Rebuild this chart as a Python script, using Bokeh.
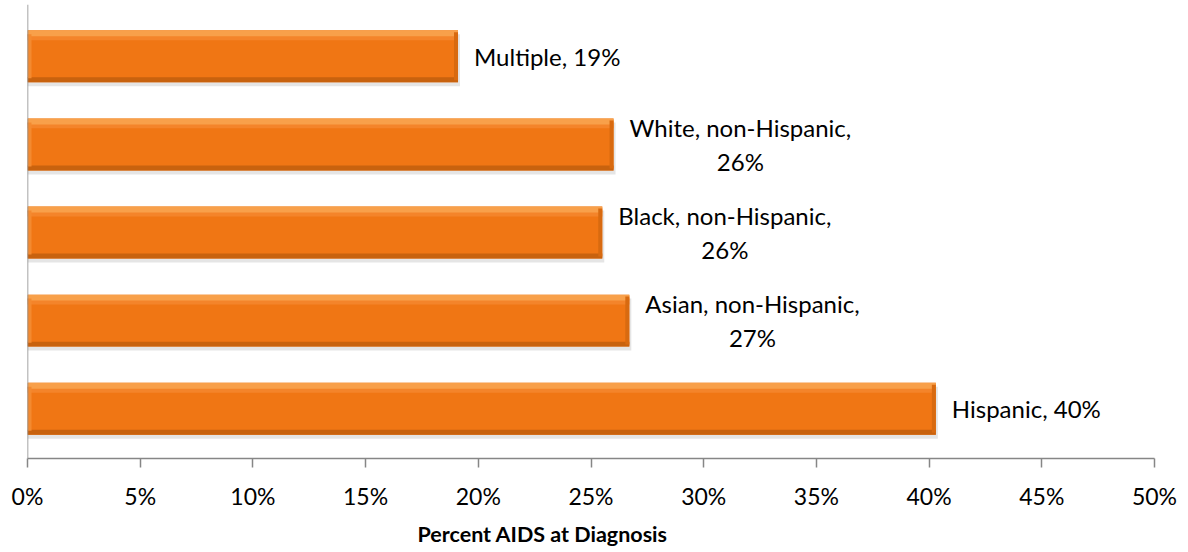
from bokeh.plotting import figure
from bokeh.models import ColumnDataSource, FixedTicker, Title, Span
from bokeh.core.properties import value
from bokeh.embed import file_html
from bokeh.resources import INLINE

# ---- data ----
groups = ["Hispanic", "Asian, non-Hispanic", "Black, non-Hispanic", "White, non-Hispanic", "Multiple"]
percents = [40.3, 26.7, 25.5, 26.0, 19.1]
labels = ["Hispanic, 40%", "Asian, non-Hispanic,\n27%", "Black, non-Hispanic,\n26%",
          "White, non-Hispanic,\n26%", "Multiple, 19%"]
tick_values = [0, 5, 10, 15, 20, 25, 30, 35, 40, 45, 50]
tick_labels = {t: f"{t}%" for t in tick_values}
x_title = "Percent AIDS at Diagnosis"

FONT = "Lato"
W, H = 1188, 552
px_y = 1.0 / 88.5          # data units per pixel, vertical
px_x = 50.0 / 1127.0       # data units per pixel, horizontal
bar_h = 0.59

ypos = list(range(len(groups)))
src = ColumnDataSource(dict(
    y=ypos,
    v=percents,
    label=labels,
    y_shadow=[y - 4 * px_y for y in ypos],
    y_top=[y + bar_h / 2 - 3 * px_y for y in ypos],
    y_top2=[y + bar_h / 2 - 7 * px_y for y in ypos],
    y_bot=[y - bar_h / 2 + 2.5 * px_y for y in ypos],
    right_in=[v - 4 * px_x for v in percents],
    left_in=[4 * px_x for _ in percents],
    x_shadow=[v + 2 * px_x for v in percents],
))

p = figure(width=W, height=H, output_backend="svg", toolbar_location=None,
           x_range=(0, 50), y_range=(-0.565, 4.588),
           min_border_left=27, min_border_right=34, min_border_top=4, min_border_bottom=92)
p.outline_line_color = None
p.xgrid.visible = False
p.ygrid.visible = False
p.yaxis.visible = False
p.background_fill_color = "white"
p.border_fill_color = "white"

# shadow
p.hbar(y="y_shadow", left=0, right="x_shadow", height=bar_h, source=src,
       fill_color="#000000", fill_alpha=0.10, line_color=None)
# main body
p.hbar(y="y", left=0, right="v", height=bar_h, source=src,
       fill_color="#F07614", line_color=None)
# top highlight
p.hbar(y="y_top2", left=0, right="v", height=6 * px_y, source=src,
       fill_color="#F4842A", line_color=None)
p.hbar(y="y_top", left=0, right="v", height=6 * px_y, source=src,
       fill_color="#F8A04A", line_color=None)
# bottom dark edge
p.hbar(y="y_bot", left=0, right="v", height=5 * px_y, source=src,
       fill_color="#C8620E", line_color=None)
# right bevel
p.hbar(y="y", left="right_in", right="v", height=bar_h - 4 * px_y, source=src,
       fill_color="#D86A10", line_color=None)
# left bevel
p.hbar(y="y", left=0, right="left_in", height=bar_h - 8 * px_y, source=src,
       fill_color="#F38A30", line_color=None)

# data labels
p.text(x="v", y="y", text="label", source=src, x_offset=16,
       text_font=value(FONT), text_font_size="24px", text_color="#000000",
       text_align="center", anchor="center_left", text_line_height=1.15)

# left axis line
p.add_layout(Span(location=0, dimension="height", line_color="#868686", line_width=1.5))

# x axis
ax = p.xaxis[0]
ax.ticker = FixedTicker(ticks=tick_values)
ax.major_label_overrides = tick_labels
ax.axis_line_color = "#868686"
ax.axis_line_width = 1.5
ax.major_tick_line_color = "#868686"
ax.major_tick_line_width = 1.5
ax.major_tick_in = 0
ax.major_tick_out = 9
ax.minor_tick_line_color = None
ax.major_label_text_font = FONT
ax.major_label_text_font_size = "23px"
ax.major_label_text_color = "#000000"
ax.major_label_standoff = 14

p.add_layout(Title(text=x_title, align="left", offset=390, standoff=12,
                   text_font=FONT, text_font_style="bold", text_font_size="21.5px",
                   text_color="#000000"), "below")

open("out.html", "w").write(file_html(p, INLINE))
